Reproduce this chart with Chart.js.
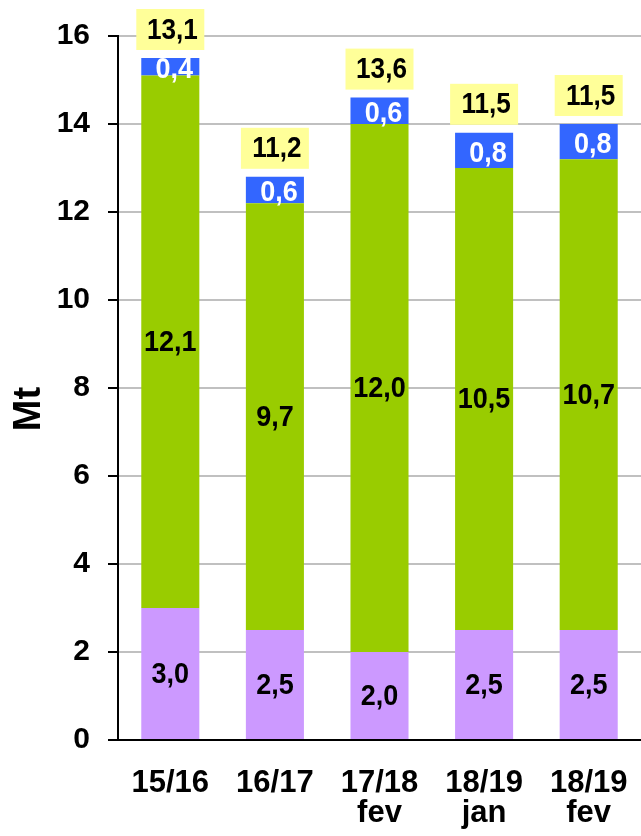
<!DOCTYPE html>
<html>
<head>
<meta charset="utf-8">
<script src="https://cdn.jsdelivr.net/npm/chart.js@4.4.1/dist/chart.umd.min.js"></script>
<style>
  html, body { margin: 0; padding: 0; background: #fff; }
  #wrap { width: 641px; height: 836px; }
</style>
</head>
<body>
<div id="wrap"><canvas id="chart1" width="641" height="836"></canvas></div>
<script>
// data (Mt)
const seasons = [["15/16"], ["16/17"], ["17/18", "fev"], ["18/19", "jan"], ["18/19", "fev"]];
const lower = [3.0, 2.5, 2.0, 2.5, 2.5];
const middle = [12.1, 9.7, 12.0, 10.5, 10.7];
const upper = [0.4, 0.6, 0.6, 0.8, 0.8];
const boxed = [13.1, 11.2, 13.6, 11.5, 11.5];
const yTicks = [0, 2, 4, 6, 8, 10, 12, 14, 16];

const FONT = '"Liberation Sans", Arial, sans-serif';
const fmt = v => v.toFixed(1).replace('.', ',');

// text a bit condensed like in the original picture
function narrowText(ctx, txt, x, y, sx) {
  ctx.save();
  ctx.translate(x, y);
  ctx.scale(sx, 1);
  ctx.fillText(txt, 0, 0);
  ctx.restore();
}

// draws the numbers in each segment and the yellow boxes on top
const segmentLabels = {
  id: 'segmentLabels',
  afterDatasetsDraw(chart) {
    const ctx = chart.ctx;
    ctx.save();
    ctx.textAlign = 'center';
    ctx.textBaseline = 'middle';
    ctx.font = 'bold 30px ' + FONT;
    chart.data.datasets.forEach((ds, i) => {
      const meta = chart.getDatasetMeta(i);
      meta.data.forEach((bar, j) => {
        let y = (bar.y + bar.base) / 2 + 1;
        let x = bar.x;
        if (i === 2) { x += 4; y += 2; }
        ctx.fillStyle = ds.textColor;
        narrowText(ctx, fmt(ds.data[j]), x, y, 0.9);
      });
    });
    // yellow boxes
    const tops = chart.getDatasetMeta(2).data;
    ctx.font = 'bold 29px ' + FONT;
    tops.forEach((bar, j) => {
      const w = 68, h = 41;
      const bottom = bar.y - 8;
      ctx.fillStyle = '#FFFF99';
      ctx.fillRect(bar.x - w / 2, bottom - h, w, h);
      ctx.fillStyle = '#000';
      narrowText(ctx, fmt(boxed[j]), bar.x + 2, bottom - h / 2 + 1, 0.9);
    });
    ctx.restore();
  }
};

new Chart(document.getElementById("chart1"), {
  type: 'bar',
  data: {
    labels: seasons,
    datasets: [
      { data: lower, backgroundColor: '#CC99FF', textColor: '#000' },
      { data: middle, backgroundColor: '#99CC00', textColor: '#000' },
      { data: upper, backgroundColor: '#3366FF', textColor: '#fff' }
    ]
  },
  options: {
    responsive: false,
    animation: false,
    layout: { padding: { top: 35, right: 0, left: 0, bottom: 0 } },
    datasets: { bar: { categoryPercentage: 1, barPercentage: 0.555 } },
    plugins: { legend: { display: false }, tooltip: { enabled: false } },
    scales: {
      x: {
        stacked: true,
        grid: { display: false, drawTicks: false },
        border: { color: '#000', width: 2 },
        ticks: {
          color: '#000',
          padding: 28,
          maxRotation: 0,
          autoSkip: false,
          font: { family: FONT, size: 31, weight: 'bold', lineHeight: 0.97 }
        },
        afterFit: s => { s.height = 96; s.paddingLeft = 0; s.paddingRight = 0; }
      },
      y: {
        stacked: true,
        min: 0,
        max: 16,
        afterBuildTicks: s => { s.ticks = yTicks.map(v => ({ value: v })); },
        grid: { color: '#C0C0C0', lineWidth: 2, tickColor: '#000', tickLength: 10 },
        border: { color: '#000', width: 2 },
        ticks: {
          color: '#000',
          padding: 18,
          font: { family: FONT, size: 30, weight: 'bold' }
        },
        title: {
          display: true,
          text: 'Mt    ',
          color: '#000',
          padding: { top: 7, bottom: 0 },
          font: { family: FONT, size: 38, weight: 'bold' }
        },
        afterFit: s => { s.width = 118; }
      }
    }
  },
  plugins: [segmentLabels]
});
</script>
</body>
</html>
